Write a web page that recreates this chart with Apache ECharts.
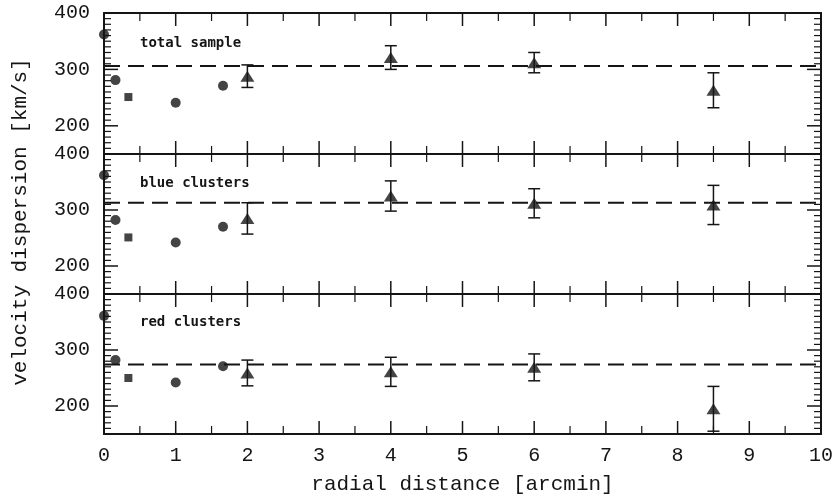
<!DOCTYPE html>
<html>
<head>
<meta charset="utf-8">
<script src="https://cdn.jsdelivr.net/npm/echarts@6/dist/echarts.min.js"></script>
<style>
  html, body { margin: 0; padding: 0; background: #fff; }
  #chart { width: 836px; height: 498px; }
</style>
</head>
<body>
<div id="chart"></div>
<script>
// radial positions [arcmin]
const circleX = [0, 0.16, 1.0, 1.66];
const squareX = [0.34];
const triX = [2, 4, 6, 8.5];

// panel titles
const panelNames = ['total sample', 'blue clusters', 'red clusters'];

// velocity dispersion [km/s]
const totalCircle = [362, 281, 241, 271];
const totalSquare = [251];
const totalTri = [288, 321, 312, 263];
const totalErr = [20, 21, 18, 31];
const totalMean = 306;

const blueCircle = [362, 282, 242, 270];
const blueSquare = [251];
const blueTri = [285, 325, 312, 309];
const blueErr = [28, 27, 26, 35];
const blueMean = 313;

const redCircle = [361, 282, 242, 271];
const redSquare = [250];
const redTri = [259, 261, 269, 195];
const redErr = [23, 26, 24, 40];
const redMean = 274;

// axis ticks
const yLabels = [200, 300, 400];
const yMin = 150, yMax = 400;
const xMin = 0, xMax = 10;

// tick marks: major every 1 / minor every 0.5 on x, major 100 / minor 10 on y
const tickItems = [];
for (let v = xMin; v <= xMax; v += 0.5) tickItems.push([v, v % 1 === 0 ? 1 : 0]);
for (let v = yMin; v <= yMax; v += 10) tickItems.push([v, v % 100 === 0 ? 3 : 2]);

const panels = [
  {circle: totalCircle, square: totalSquare, tri: totalTri, err: totalErr, mean: totalMean},
  {circle: blueCircle, square: blueSquare, tri: blueTri, err: blueErr, mean: blueMean},
  {circle: redCircle, square: redSquare, tri: redTri, err: redErr, mean: redMean}
];

const ink = '#151515';
const font = 'Liberation Mono';
const chart = echarts.init(document.getElementById('chart'));

const grids = [
  {left: 104, right: 15, top: 13, height: 141},
  {left: 104, right: 15, top: 154, height: 140},
  {left: 104, right: 15, top: 294, height: 140}
];

const xAxes = [];
const yAxes = [];
const series = [];

// ticks pointing into the frame on all four sides
function renderTicks(params, api) {
  const cs = params.coordSys;
  const v = api.value(0), kind = api.value(1);
  const st = {stroke: ink, lineWidth: kind % 2 ? 1.5 : 1.2};
  if (kind < 2) {
    const px = api.coord([v, yMin])[0];
    const len = kind === 1 ? 13 : 8;
    return {type: 'group', children: [
      {type: 'line', shape: {x1: px, y1: cs.y, x2: px, y2: cs.y + len}, style: st},
      {type: 'line', shape: {x1: px, y1: cs.y + cs.height, x2: px, y2: cs.y + cs.height - len}, style: st}
    ]};
  }
  const py = api.coord([xMin, v])[1];
  const len = kind === 3 ? 14 : 7;
  return {type: 'group', children: [
    {type: 'line', shape: {x1: cs.x, y1: py, x2: cs.x + len, y2: py}, style: st},
    {type: 'line', shape: {x1: cs.x + cs.width, y1: py, x2: cs.x + cs.width - len, y2: py}, style: st}
  ]};
}

grids.forEach((g, i) => {
  ['bottom', 'top'].forEach(pos => {
    const showLabel = (i === 2 && pos === 'bottom');
    xAxes.push({
      type: 'value', gridIndex: i, position: pos,
      min: xMin, max: xMax, interval: 1,
      axisLine: {show: true, onZero: false, lineStyle: {color: ink, width: 2}},
      axisTick: {show: false},
      splitLine: {show: false},
      axisLabel: {show: showLabel, margin: 12, color: ink, fontFamily: font, fontSize: 20},
      name: showLabel ? 'radial distance [arcmin]' : '',
      nameLocation: 'middle', nameGap: 40,
      nameTextStyle: {color: ink, fontFamily: font, fontSize: 21}
    });
  });
  ['left', 'right'].forEach(pos => {
    yAxes.push({
      type: 'value', gridIndex: i, position: pos,
      min: yMin, max: yMax, interval: 10,
      axisLine: {show: true, onZero: false, lineStyle: {color: ink, width: 2}},
      axisTick: {show: false},
      splitLine: {show: false},
      axisLabel: {
        show: pos === 'left', customValues: yLabels, margin: 14,
        color: ink, fontFamily: font, fontSize: 20
      }
    });
  });

  const p = panels[i];
  const xi = i * 2, yi = i * 2;
  series.push({
    type: 'custom', xAxisIndex: xi, yAxisIndex: yi, silent: true, clip: false,
    data: tickItems, renderItem: renderTicks
  });
  // mean level
  series.push({
    type: 'line', xAxisIndex: xi, yAxisIndex: yi,
    data: [[xMin, p.mean], [xMax, p.mean]],
    symbol: 'none', silent: true,
    lineStyle: {color: ink, width: 2, type: [16, 8]}
  });
  series.push({
    type: 'scatter', xAxisIndex: xi, yAxisIndex: yi, clip: true,
    data: circleX.map((x, k) => [x, p.circle[k]]),
    symbol: 'circle', symbolSize: 10,
    itemStyle: {color: ink}
  });
  series.push({
    type: 'scatter', xAxisIndex: xi, yAxisIndex: yi,
    data: squareX.map((x, k) => [x, p.square[k]]),
    symbol: 'rect', symbolSize: 8,
    itemStyle: {color: ink}
  });
  // error bars
  series.push({
    type: 'custom', xAxisIndex: xi, yAxisIndex: yi,
    data: triX.map((x, k) => [x, p.tri[k] - p.err[k], p.tri[k] + p.err[k]]),
    renderItem: (params, api) => {
      const top = api.coord([api.value(0), api.value(2)]);
      const bot = api.coord([api.value(0), api.value(1)]);
      const st = {stroke: ink, lineWidth: 1.5};
      return {
        type: 'group',
        children: [
          {type: 'line', shape: {x1: top[0], y1: top[1], x2: bot[0], y2: bot[1]}, style: st},
          {type: 'line', shape: {x1: top[0] - 6, y1: top[1], x2: top[0] + 6, y2: top[1]}, style: st},
          {type: 'line', shape: {x1: bot[0] - 6, y1: bot[1], x2: bot[0] + 6, y2: bot[1]}, style: st}
        ]
      };
    }
  });
  series.push({
    type: 'scatter', xAxisIndex: xi, yAxisIndex: yi,
    data: triX.map((x, k) => [x, p.tri[k]]),
    symbol: 'triangle', symbolSize: [14, 11],
    itemStyle: {color: ink}
  });
});

const labelTops = [36, 176, 315];

chart.setOption({
  backgroundColor: '#fff',
  animation: false,
  grid: grids,
  xAxis: xAxes,
  yAxis: yAxes,
  series: series,
  graphic: [
    ...panelNames.map((t, i) => ({
      type: 'text', left: 140, top: labelTops[i],
      style: {text: t, fill: ink, font: 'bold 14px "DejaVu Sans Mono"'}
    })),
    {
      type: 'text', x: 20, y: 222, rotation: Math.PI / 2,
      style: {
        text: 'velocity dispersion [km/s]', fill: ink,
        font: '21px "Liberation Mono"', textAlign: 'center', textVerticalAlign: 'middle'
      }
    }
  ]
});
</script>
</body>
</html>
